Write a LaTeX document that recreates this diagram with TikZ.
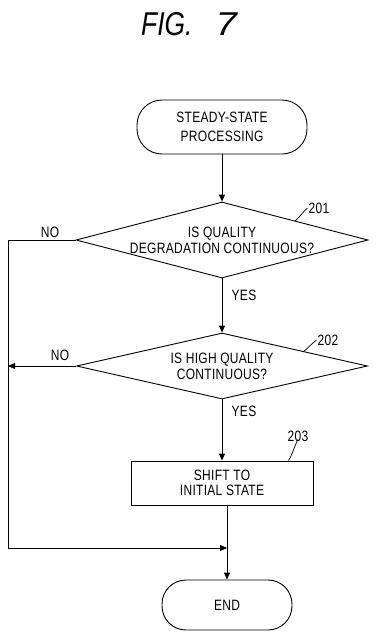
\documentclass[tikz,border=0pt]{standalone}
\usepackage{fontspec}
\setmainfont{Liberation Sans}
\newfontfamily\lab[FakeStretch=0.8,LetterSpace=2]{Liberation Sans}
\newfontfamily\titlefont[FakeStretch=0.8]{Liberation Sans}
\usetikzlibrary{shapes.geometric,arrows.meta,calc}
\begin{document}
\begin{tikzpicture}[x=1pt,y=-1pt,
  every node/.style={font=\lab\fontsize{15}{16}\selectfont, align=center, inner sep=0pt},
  ln/.style={line width=0.9pt},
  arr/.style={ln,-{Triangle[length=7pt,width=6pt]}},
  term/.style={draw, ln, rectangle},
  dec/.style={draw, ln, diamond},
  proc/.style={draw, ln, rectangle},
  lbl/.style={font=\lab\fontsize{15}{16}\selectfont},
  leader/.style={line width=0.7pt}]
\useasboundingbox (0,0) rectangle (376,641);
% title
\node[font=\titlefont\itshape\fontsize{33}{34}\selectfont, anchor=west] (title) at (141,24) {FIG.\hspace{23pt}\scalebox{1.45}[1]{7}};
% nodes
\node[term, minimum width=170pt, minimum height=54pt, rounded corners=25pt,
      font=\lab\fontsize{15}{19.5}\selectfont] (start) at (222,127) {STEADY-STATE\\PROCESSING};
\node[dec, minimum width=292pt, minimum height=76pt,
      label={[align=center]center:IS QUALITY\\DEGRADATION CONTINUOUS?}] (d1) at (222,240) {};
\node[dec, minimum width=291pt, minimum height=66pt,
      label={[align=center]center:IS HIGH QUALITY\\CONTINUOUS?}] (d2) at (222,366) {};
\node[proc, minimum width=182pt, minimum height=44pt, font=\lab\fontsize{15}{15.5}\selectfont] (p3) at (222,483) {SHIFT TO\\INITIAL STATE};
\node[term, minimum width=130pt, minimum height=50pt, rounded corners=24pt] (end) at (227,605) {END};
% reference numerals
\node[lbl] (n201) at (319,208) {201};
\node[lbl] (n202) at (328,340) {202};
\node[lbl] (n203) at (298,436) {203};
% branch labels
\node[lbl] (no1) at (50,232) {NO};
\node[lbl] (no2) at (60,355) {NO};
\node[lbl] (yes1) at (244,295) {YES};
\node[lbl] (yes2) at (244,411) {YES};
% helper coordinates
\coordinate (L1) at (8,240);
\coordinate (L2) at (8,548);
\coordinate (e201) at ($(d1.north)!0.5!(d1.east)$);
\coordinate (e202) at ($(d2.north)!0.56!(d2.east)$);
\coordinate (e203) at ($(p3.north east)+(-25,0)$);
% connectors
\draw[arr] (start.south) -- (d1.north);
\draw[arr] (d1.south) -- (d2.north);
\draw[arr] (d2.south) -- (p3.north);
\draw[arr] (p3.south -| end.north) -- (end.north);
\draw[arr] (d1.west) -- (L1) -- (L2) -- (L2 -| end.north);
\draw[arr] (d2.west) -- (d2.west -| L1);
% leaders
\draw[leader] (e201) .. controls +(5,-4) and +(-4,3) .. ([xshift=-1pt]n201.west);
\draw[leader] (e202) .. controls +(5,-4) and +(-4,3) .. ([xshift=-1pt]n202.west);
\draw[leader] (e203) .. controls +(3,-4) and +(-2,3) .. ([yshift=2pt]n203.south);
\end{tikzpicture}
\end{document}
